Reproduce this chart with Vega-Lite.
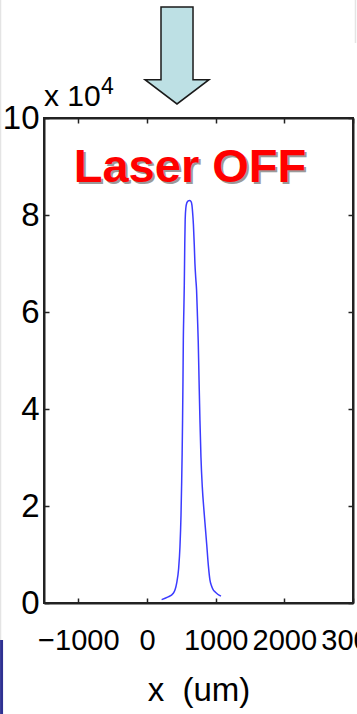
{
  "$schema": "https://vega.github.io/schema/vega-lite/v6.json",
  "width": 309,
  "height": 485,
  "autosize": {"type": "none"},
  "padding": {"left": 44, "top": 118, "right": 4, "bottom": 111},
  "background": "white",
  "config": {
    "view": {"stroke": "#222222", "strokeWidth": 2},
    "axis": {
      "labelFont": "Liberation Sans",
      "labelFontSize": 29,
      "labelColor": "#000000",
      "titleFont": "Liberation Sans",
      "titleFontSize": 33,
      "titleFontWeight": "normal",
      "titleColor": "#000000",
      "domainColor": "#222222",
      "domainWidth": 2,
      "tickColor": "#222222",
      "tickWidth": 1.5,
      "tickSize": -5,
      "grid": false,
      "labelOverlap": false,
      "labelFlush": false
    }
  },
  "datasets": {
    "curve": [
      {"x": 213, "y": 700}, {"x": 300, "y": 1200}, {"x": 383, "y": 2000}, {"x": 432, "y": 4100},
      {"x": 460, "y": 7000}, {"x": 480, "y": 11600}, {"x": 495, "y": 18000}, {"x": 505, "y": 25000},
      {"x": 512, "y": 31000}, {"x": 518, "y": 37700}, {"x": 524, "y": 46000}, {"x": 529, "y": 54200},
      {"x": 536, "y": 60000}, {"x": 543, "y": 65500}, {"x": 550, "y": 74000}, {"x": 556, "y": 79000},
      {"x": 566, "y": 81500}, {"x": 580, "y": 82500}, {"x": 600, "y": 82900}, {"x": 620, "y": 83000},
      {"x": 640, "y": 82800}, {"x": 655, "y": 82000}, {"x": 667, "y": 80000}, {"x": 676, "y": 78000},
      {"x": 688, "y": 74000}, {"x": 698, "y": 70000}, {"x": 710, "y": 67000}, {"x": 722, "y": 64500},
      {"x": 735, "y": 59000}, {"x": 746, "y": 54000}, {"x": 758, "y": 46000}, {"x": 771, "y": 37700},
      {"x": 786, "y": 30000}, {"x": 805, "y": 24000}, {"x": 830, "y": 19000}, {"x": 850, "y": 15500},
      {"x": 870, "y": 12000}, {"x": 895, "y": 7500}, {"x": 917, "y": 4700}, {"x": 940, "y": 3500},
      {"x": 965, "y": 2700}, {"x": 990, "y": 2300}, {"x": 1030, "y": 1800}, {"x": 1077, "y": 1400}
    ],
    "title": [{"x": 626, "y": 86800, "t": "Laser OFF"}],
    "exp": [{"x": -1500, "y": 102500, "t": "x 10"}],
    "exp4": [{"x": -670, "y": 105000, "t": "4"}],
    "arrow": [{"x": 437, "y": 112900}],
    "navy": [{"x": -2118, "y": -7629, "y2": -22900}],
    "greyleft": [{"x": -2133, "y": 124400, "y2": -7629}],
    "greyright": [{"x": 3036, "y": 124400, "y2": 115460}]
  },
  "layer": [
    {
      "data": {"name": "curve"},
      "mark": {"type": "line", "color": "#3b3bff", "strokeWidth": 1.5, "interpolate": "monotone"},
      "encoding": {
        "x": {"field": "x", "type": "quantitative", "scale": {"domain": [-1500, 3000], "nice": false, "zero": false},
          "axis": {"orient": "bottom", "values": [-1000, 0, 1000, 2000, 3000], "format": "d", "title": "x\u00a0 (um)", "labelPadding": 28, "titleBaseline": "alphabetic", "titleY": 97}},
        "y": {"field": "y", "type": "quantitative", "scale": {"domain": [0, 100000], "nice": false},
          "axis": {"orient": "left", "values": [0, 20000, 40000, 60000, 80000, 100000], "labelExpr": "datum.value / 10000", "title": null, "labelPadding": 10, "labelFontSize": 33}}
      }
    },
    {
      "data": {"name": "curve"},
      "mark": {"type": "line", "opacity": 0},
      "encoding": {
        "x": {"field": "x", "type": "quantitative", "axis": {"orient": "top", "values": [-1000, 0, 1000, 2000, 3000], "labels": false, "title": null}},
        "y": {"field": "y", "type": "quantitative", "axis": {"orient": "right", "values": [0, 20000, 40000, 60000, 80000, 100000], "labels": false, "title": null}}
      }
    },
    {
      "data": {"name": "title"},
      "mark": {"type": "text", "font": "Liberation Sans", "fontWeight": "bold", "fontSize": 47, "color": "#9a9a9a", "dx": 2, "dy": 2, "baseline": "alphabetic", "align": "center"},
      "encoding": {"x": {"field": "x", "type": "quantitative", "axis": null}, "y": {"field": "y", "type": "quantitative", "axis": null}, "text": {"field": "t"}}
    },
    {
      "data": {"name": "title"},
      "mark": {"type": "text", "font": "Liberation Sans", "fontWeight": "bold", "fontSize": 47, "color": "#ff0000", "baseline": "alphabetic", "align": "center"},
      "encoding": {"x": {"field": "x", "type": "quantitative", "axis": null}, "y": {"field": "y", "type": "quantitative", "axis": null}, "text": {"field": "t"}}
    },
    {
      "data": {"name": "exp"},
      "mark": {"type": "text", "font": "Liberation Sans", "fontSize": 30, "color": "#000000", "baseline": "alphabetic", "align": "left"},
      "encoding": {"x": {"field": "x", "type": "quantitative", "axis": null}, "y": {"field": "y", "type": "quantitative", "axis": null}, "text": {"field": "t"}}
    },
    {
      "data": {"name": "exp4"},
      "mark": {"type": "text", "font": "Liberation Sans", "fontSize": 23, "color": "#000000", "baseline": "alphabetic", "align": "left"},
      "encoding": {"x": {"field": "x", "type": "quantitative", "axis": null}, "y": {"field": "y", "type": "quantitative", "axis": null}, "text": {"field": "t"}}
    },
    {
      "data": {"name": "arrow"},
      "mark": {"type": "point", "shape": "M-0.33,-1L0.33,-1L0.33,0.5L0.66,0.5L0,1L-0.66,0.5L-0.33,0.5Z", "size": 9409, "filled": true, "fill": "#bde0e4", "stroke": "#1a1a1a", "strokeWidth": 1.5, "opacity": 1},
      "encoding": {"x": {"field": "x", "type": "quantitative", "axis": null}, "y": {"field": "y", "type": "quantitative", "axis": null}}
    },
    {
      "data": {"name": "navy"},
      "mark": {"type": "rule", "color": "#2e3192", "strokeWidth": 3},
      "encoding": {"x": {"field": "x", "type": "quantitative", "axis": null}, "y": {"field": "y", "type": "quantitative", "axis": null}, "y2": {"field": "y2"}}
    },
    {
      "data": {"name": "greyleft"},
      "mark": {"type": "rule", "color": "#e4e4e4", "strokeWidth": 1.5},
      "encoding": {"x": {"field": "x", "type": "quantitative", "axis": null}, "y": {"field": "y", "type": "quantitative", "axis": null}, "y2": {"field": "y2"}}
    },
    {
      "data": {"name": "greyright"},
      "mark": {"type": "rule", "color": "#e4e4e4", "strokeWidth": 1.5},
      "encoding": {"x": {"field": "x", "type": "quantitative", "axis": null}, "y": {"field": "y", "type": "quantitative", "axis": null}, "y2": {"field": "y2"}}
    }
  ]
}
